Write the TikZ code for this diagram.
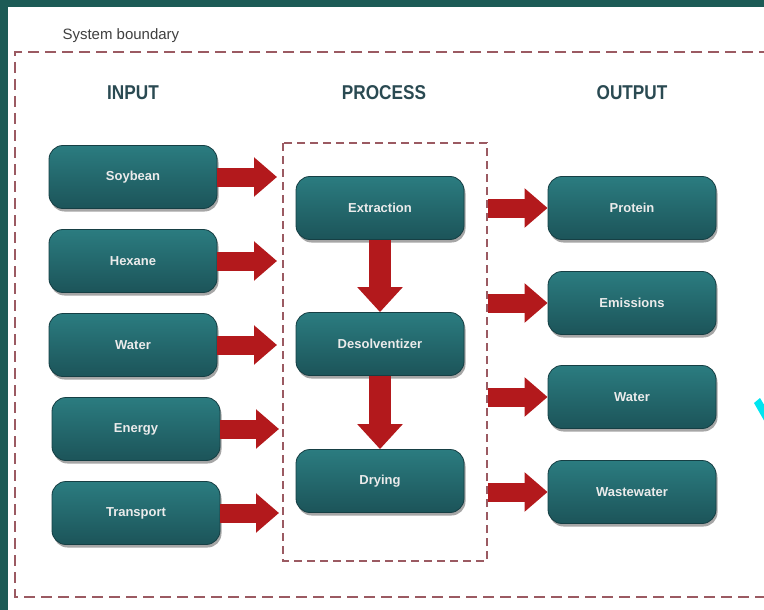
\documentclass[tikz,border=0pt]{standalone}
\usepackage{fontspec}
\setmainfont{Liberation Sans}
\newfontfamily\headfont[FakeStretch=0.86]{Liberation Sans}
\usetikzlibrary{arrows.meta,shadows,positioning}
\definecolor{frameteal}{HTML}{1D5B56}
\definecolor{boxtop}{HTML}{2B7C80}
\definecolor{boxbot}{HTML}{1C5459}
\definecolor{boxedge}{HTML}{163F44}
\definecolor{flowred}{HTML}{B3191C}
\definecolor{bounddash}{HTML}{9B5A62}
\definecolor{headcol}{HTML}{2A4A52}
\definecolor{tickcyan}{HTML}{00E5F0}
\tikzset{
  stage/.style={draw=boxedge, line width=0.8pt, rounded corners=14pt,
    top color=boxtop, bottom color=boxbot,
    minimum width=168pt, minimum height=63pt,
    text=white!92!black, font=\fontsize{13}{15}\selectfont\bfseries,
    drop shadow={shadow xshift=1.5pt, shadow yshift=-3pt, opacity=0.35, fill=black}},
  heading/.style={text=headcol, font=\headfont\fontsize{20}{23}\selectfont\bfseries},
  flowh/.style={line width=19pt, draw=flowred,
    -{Triangle[length=23pt, width=38pt, fill=flowred]}},
  flowv/.style={line width=22pt, draw=flowred,
    -{Triangle[length=25pt, width=44pt, fill=flowred]}},
  boundary/.style={draw=bounddash, line width=1.8pt, dash pattern=on 11pt off 6pt},
  procbound/.style={draw=bounddash, line width=1.4pt, dash pattern=on 8pt off 5pt},
}
\begin{document}
\begin{tikzpicture}[x=1pt, y=-1pt]
  % page frame
  \fill[frameteal] (0,0) rectangle (764,610);
  \fill[white] (8,7) rectangle (764,610);
  \useasboundingbox (0,0) rectangle (764,610);

  % system boundary
  \draw[boundary] (770,52) -- (15,52) -- (15,597) -- (770,597);
  \node[anchor=west, text=black!75, font=\fontsize{15}{17}\selectfont] (sysb) at (59,36) {System boundary};

  % column headings
  \node[heading] (hin)   at (133,93) {INPUT};
  \node[heading] (hproc) at (384,93) {PROCESS};
  \node[heading] (hout)  at (632,93) {OUTPUT};

  % process boundary
  \draw[procbound] (283,143) rectangle (487,561);

  % inputs
  \node[stage] (soy)   at (133,177) {Soybean};
  \node[stage] (hex)   at (133,261) {Hexane};
  \node[stage] (win)   at (133,345) {Water};
  \node[stage] (ene)   at (136,429) {Energy};
  \node[stage] (tra)   at (136,513) {Transport};

  % process steps
  \node[stage] (ext)   at (380,208) {Extraction};
  \node[stage] (des)   at (380,344) {Desolventizer};
  \node[stage] (dry)   at (380,481) {Drying};

  % outputs
  \node[stage] (pro)   at (632,208) {Protein};
  \node[stage] (emi)   at (632,303) {Emissions};
  \node[stage] (wout)  at (632,397) {Water};
  \node[stage] (was)   at (632,492) {Wastewater};

  % arrow end points at the process boundary
  \coordinate (soyT) at (277,177);
  \coordinate (hexT) at (277,261);
  \coordinate (winT) at (277,345);
  \coordinate (eneT) at (279,429);
  \coordinate (traT) at (279,513);
  \coordinate (proS) at (488,208);
  \coordinate (emiS) at (488,303);
  \coordinate (woutS) at (488,397);
  \coordinate (wasS) at (488,492);

  % input flows
  \draw[flowh] (soy.east) -- (soyT);
  \draw[flowh] (hex.east) -- (hexT);
  \draw[flowh] (win.east) -- (winT);
  \draw[flowh] (ene.east) -- (eneT);
  \draw[flowh] (tra.east) -- (traT);

  % process flows
  \draw[flowv] (ext.south) -- (des.north);
  \draw[flowv] (des.south) -- (dry.north);

  % output flows
  \draw[flowh] (proS) -- (pro.west);
  \draw[flowh] (emiS) -- (emi.west);
  \draw[flowh] (woutS) -- (wout.west);
  \draw[flowh] (wasS) -- (was.west);

  % cyan mark at the right edge
  \fill[tickcyan] (754,403) -- (760,398) -- (766,408) -- (766,424) -- cycle;
\end{tikzpicture}
\end{document}
